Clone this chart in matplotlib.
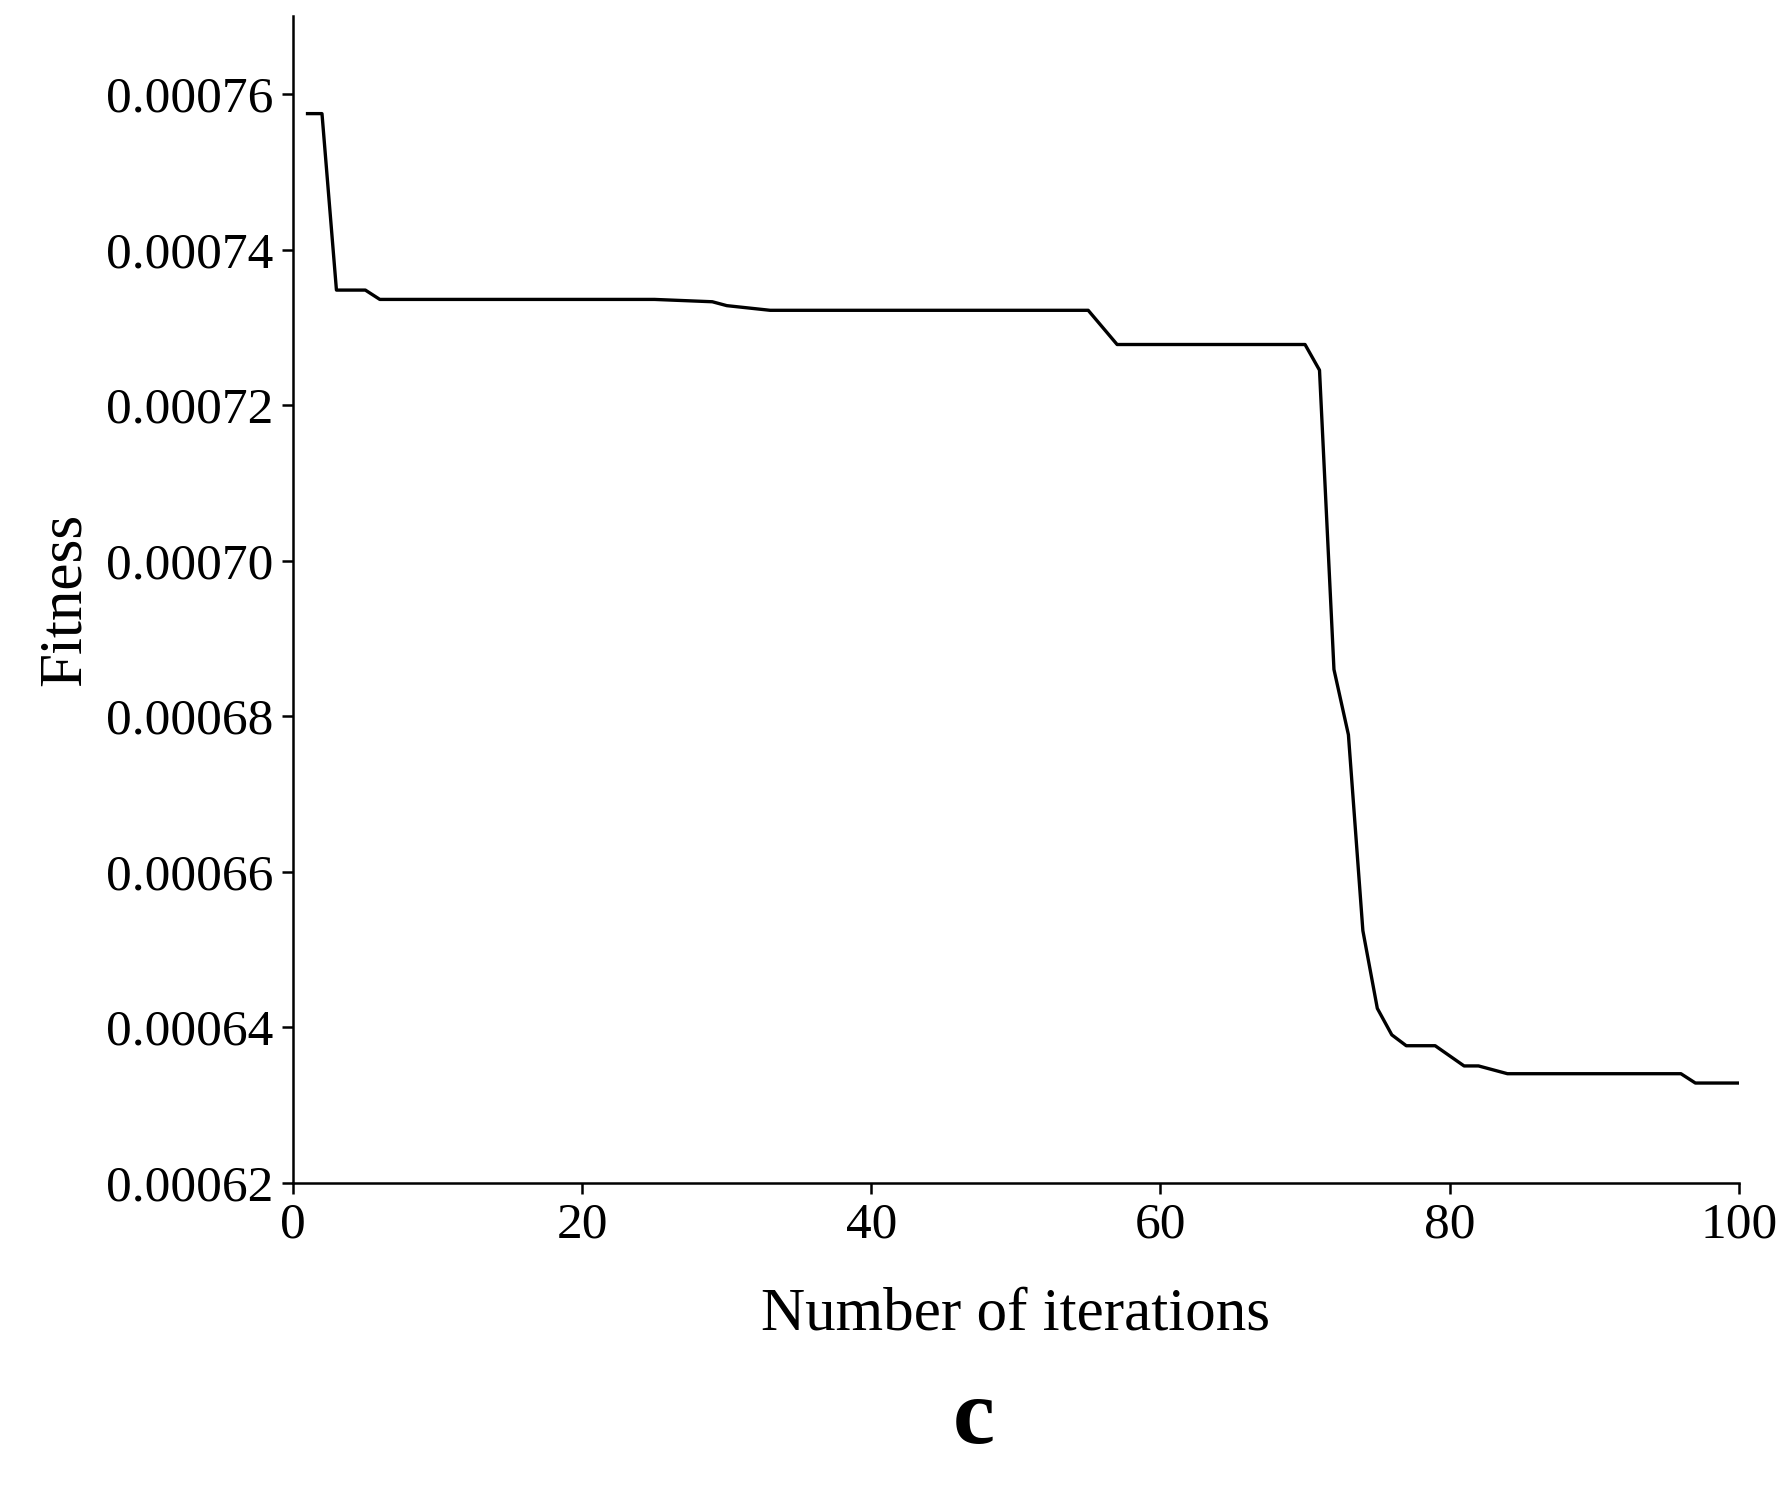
import matplotlib.pyplot as plt

iterations = [1, 2, 3, 5, 6, 25, 29, 30, 33, 55, 57, 70, 71, 72, 73, 74, 75, 76, 77, 79, 81, 82, 84, 96, 97, 100]
fitness = [0.0007575, 0.0007575, 0.0007348, 0.0007348, 0.0007336, 0.0007336, 0.0007333,
           0.0007328, 0.0007322, 0.0007322, 0.0007278, 0.0007278, 0.0007245, 0.000686,
           0.0006776, 0.0006524, 0.0006424, 0.000639, 0.0006376, 0.0006376, 0.000635,
           0.000635, 0.000634, 0.000634, 0.0006328, 0.0006328]

plt.rcParams['font.family'] = ['Liberation Serif', 'DejaVu Serif']

fig = plt.figure(figsize=(17.87, 14.95), dpi=100)
ax = fig.add_axes([0.164, 0.209, 0.809, 0.78])
ax.plot(iterations, fitness, color='black', linewidth=2.4)

ax.set_xlim(0, 100)
ax.set_ylim(0.00062, 0.00077)
ax.set_xticks([0, 20, 40, 60, 80, 100])
ax.set_yticks([0.00062 + 0.00002 * i for i in range(8)])
ax.set_yticklabels([f"{0.00062 + 0.00002 * i:.5f}" for i in range(8)])
ax.spines['top'].set_visible(False)
ax.spines['right'].set_visible(False)
for s in ('left', 'bottom'):
    ax.spines[s].set_linewidth(1.8)
ax.tick_params(labelsize=37, length=8, width=1.8, direction='out', pad=6)
ax.set_xlabel("Number of iterations", fontsize=44, labelpad=28)
ax.set_ylabel("Fitness", fontsize=44, labelpad=10)

fig.text(0.545, 0.035, "c", fontsize=68, fontweight='bold', ha='center')

fig.savefig("out.png", dpi=100)
